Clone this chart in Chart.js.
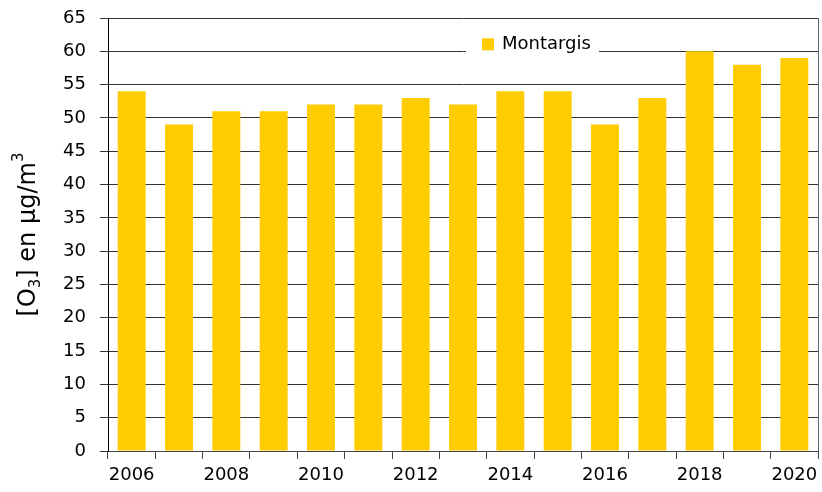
<!DOCTYPE html>
<html>
<head>
<meta charset="utf-8">
<script src="https://cdn.jsdelivr.net/npm/chart.js@4"></script>
<style>
  html, body { margin: 0; padding: 0; background: #fff; }
  #wrap { width: 822px; height: 492px; }
</style>
</head>
<body>
<div id="wrap"><canvas id="c" width="822" height="492"></canvas></div>
<script>
const years = ['2006','2007','2008','2009','2010','2011','2012','2013','2014','2015','2016','2017','2018','2019','2020'];
const montargis = [54, 49, 51, 51, 52, 52, 53, 52, 54, 54, 49, 53, 60, 58, 59];
const seriesLabel = 'Montargis';
const yMin = 0, yMax = 65, yStep = 5;

const FONT = "'DejaVu Sans', Verdana, sans-serif";

const titlePlugin = {
  id: 'yTitle',
  afterDraw(chart) {
    const ctx = chart.ctx;
    const area = chart.chartArea;
    const parts = [
      {t: '[O', s: 24, dy: 0},
      {t: '3', s: 15, dy: 7},
      {t: '] en µg/m', s: 24, dy: 0},
      {t: '3', s: 15, dy: -10}
    ];
    ctx.save();
    let total = 0;
    parts.forEach(p => { ctx.font = p.s + 'px ' + FONT; p.w = ctx.measureText(p.t).width; total += p.w; });
    ctx.translate(29, (area.top + area.bottom) / 2);
    ctx.rotate(-Math.PI / 2);
    ctx.fillStyle = '#000';
    ctx.textBaseline = 'middle';
    let x = -total / 2;
    parts.forEach(p => {
      ctx.font = p.s + 'px ' + FONT;
      ctx.fillText(p.t, x, p.dy);
      x += p.w;
    });
    ctx.restore();
  }
};

const legendPlugin = {
  id: 'boxLegend',
  afterDatasetsDraw(chart) {
    const ctx = chart.ctx;
    const ds = chart.data.datasets[0];
    ctx.save();
    ctx.font = '18px ' + FONT;
    const tw = ctx.measureText(ds.label).width;
    const yScale = chart.scales.y;
    const cy = yScale.getPixelForValue(60) - 7;
    const x0 = 466;
    const w = 14 + 8 + tw + 8 + 14;
    ctx.fillStyle = '#fff';
    ctx.fillRect(x0, cy - 14, w, 28);
    ctx.fillStyle = ds.backgroundColor;
    ctx.fillRect(x0 + 16, cy - 6, 12, 12);
    ctx.fillStyle = '#000';
    ctx.textBaseline = 'middle';
    ctx.fillText(ds.label, x0 + 36, cy);
    ctx.restore();
  }
};

new Chart(document.getElementById('c'), {
  type: 'bar',
  data: {
    labels: years,
    datasets: [{
      label: seriesLabel,
      data: montargis,
      backgroundColor: '#FFCC00',
      borderWidth: 0,
      categoryPercentage: 1,
      barPercentage: 0.59
    }]
  },
  options: {
    responsive: false,
    animation: false,
    layout: { padding: { top: 18, right: 4, bottom: 0, left: 0 } },
    plugins: {
      legend: { display: false },
      tooltip: { enabled: false }
    },
    scales: {
      x: {
        offset: true,
        grid: {
          offset: true,
          drawOnChartArea: false,
          drawTicks: true,
          tickLength: 8,
          color: '#444'
        },
        border: { display: true, color: '#444', width: 1 },
        ticks: {
          autoSkip: false,
          maxRotation: 0,
          padding: 6,
          color: '#000',
          font: { family: FONT, size: 18 },
          callback: function(v, i) { return i % 2 === 0 ? years[i] : ''; }
        },
        afterFit(s) { s.height = 41; s.paddingLeft = 0; s.paddingRight = 0; }
      },
      y: {
        min: yMin,
        max: yMax,
        ticks: {
          stepSize: yStep,
          padding: 14,
          color: '#000',
          font: { family: FONT, size: 18 }
        },
        grid: {
          color: '#333',
          lineWidth: 1,
          tickLength: 8
        },
        border: { display: true, color: '#000', width: 1 },
        afterFit(s) { s.width = 108; s.paddingTop = 0; s.paddingBottom = 0; }
      }
    }
  },
  plugins: [titlePlugin, legendPlugin, {
    id: 'rightBorder',
    afterDraw(chart) {
      const a = chart.chartArea, ctx = chart.ctx;
      ctx.save();
      ctx.strokeStyle = '#666';
      ctx.lineWidth = 1;
      ctx.beginPath();
      ctx.moveTo(a.right + 0.5, a.top);
      ctx.lineTo(a.right + 0.5, a.bottom);
      ctx.stroke();
      ctx.restore();
    }
  }]
});
</script>
</body>
</html>
